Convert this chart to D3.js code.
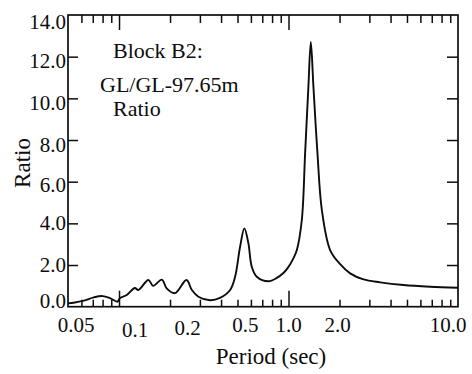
<!DOCTYPE html>
<html>
<head>
<meta charset="utf-8">
<script src="https://cdn.jsdelivr.net/npm/d3@7"></script>
<style>
  html, body { margin: 0; padding: 0; background: #fff; }
  svg { display: block; }
</style>
</head>
<body>
<svg id="chart" width="472" height="374" font-family="Liberation Serif, serif"></svg>
<script>
// ---- data ----
const periods = [0.050, 0.054, 0.062, 0.071, 0.080, 0.089, 0.098, 0.101, 0.111, 0.124,
                 0.130, 0.149, 0.159, 0.179, 0.191, 0.214, 0.250, 0.269, 0.294, 0.344,
                 0.394, 0.452, 0.484, 0.518, 0.549, 0.580, 0.607, 0.650, 0.760, 0.853,
                 0.933, 0.978, 1.069, 1.120, 1.198, 1.253, 1.310, 1.354, 1.403,
                 1.482, 1.573, 1.760, 2.017, 2.310, 2.770, 3.470, 4.770, 6.850, 10.00];
const ratios  = [0.16, 0.19, 0.29, 0.45, 0.51, 0.40, 0.24, 0.40, 0.56, 0.90,
                 0.80, 1.28, 1.00, 1.30, 0.88, 0.65, 1.28, 0.80, 0.48, 0.31,
                 0.42, 0.80, 1.44, 2.88, 3.76, 3.04, 1.92, 1.44, 1.22, 1.38,
                 1.62, 1.80, 2.32, 2.72, 4.16, 7.36, 10.55, 12.71, 10.55,
                 7.36, 4.64, 2.72, 2.04, 1.60, 1.31, 1.17, 1.04, 0.96, 0.91];

const xTickValues = [0.05, 0.1, 0.2, 0.5, 1, 2, 10];
const xTickLabels = ["0.05", "0.1", "0.2", "0.5", "1.0", "2.0", "10.0"];
const xMajorTicks = [0.1, 1];
const xMinorTicks = [0.06, 0.07, 0.08, 0.09, 0.2, 0.3, 0.4, 0.5, 0.6, 0.7, 0.8, 0.9,
                     2, 3, 4, 5, 6, 7, 8, 9];
const yTickValues = [0, 2, 4, 6, 8, 10, 12, 14];
const yTickLabels = ["0.0", "2.0", "4.0", "6.0", "8.0", "10.0", "12.0", "14.0"];
const yInnerTicks = [2, 4, 6, 8, 10, 12];
const annotations = ["Block B2:", "GL/GL-97.65m", "Ratio"];
const xTitle = "Period (sec)";
const yTitle = "Ratio";

// ---- layout / style ----
const L = 68, R = 458, T = 15, B = 306.7;
const xLabelDx = [8, 16, 17.5, 8, 0, -2, -10];
const xLabelBase = [332, 337, 335, 332, 332, 332, 332];
const yLabelDy = [1.3, 7, 6.7, 10.3, 12, 11.8, 11.8, 13.5];
const FF = "Liberation Serif, serif";
const INK = "#0d0d0d";

const svg = d3.select("#chart");
const x = d3.scaleLog().domain([0.05, 10]).range([L, R]);
const y = d3.scaleLinear().domain([0, 14]).range([B, T]);

function styleAxis(g) {
  g.select(".domain").remove();
  g.selectAll(".tick line").attr("stroke", INK).attr("stroke-width", 1.5);
}
svg.append("g").attr("transform", `translate(0,${B})`)
  .call(d3.axisBottom(x).tickValues(xMinorTicks).tickSize(-7).tickFormat(""))
  .call(styleAxis);
svg.append("g").attr("transform", `translate(0,${B})`)
  .call(d3.axisBottom(x).tickValues(xMajorTicks).tickSize(-16).tickFormat(""))
  .call(styleAxis);
svg.append("g").attr("transform", `translate(0,${T})`)
  .call(d3.axisTop(x).tickValues(xMinorTicks).tickSize(-8).tickFormat(""))
  .call(styleAxis);
svg.append("g").attr("transform", `translate(0,${T})`)
  .call(d3.axisTop(x).tickValues(xMajorTicks).tickSize(-15).tickFormat(""))
  .call(styleAxis);
svg.append("g").attr("transform", `translate(${L},0)`)
  .call(d3.axisLeft(y).tickValues(yInnerTicks).tickSize(-10).tickFormat(""))
  .call(styleAxis);
svg.append("g").attr("transform", `translate(${R},0)`)
  .call(d3.axisRight(y).tickValues(yInnerTicks).tickSize(-11).tickFormat(""))
  .call(styleAxis);

// frame
svg.append("rect").attr("x", L).attr("y", T).attr("width", R - L).attr("height", B - T)
  .attr("fill", "none").attr("stroke", INK).attr("stroke-width", 1.7);

// x tick labels
svg.append("g").selectAll("text").data(xTickValues).join("text")
  .attr("x", (d, i) => x(d) + xLabelDx[i])
  .attr("y", (d, i) => xLabelBase[i])
  .attr("text-anchor", "middle")
  .attr("font-family", FF).attr("fill", INK)
  .attr("font-size", 21)
  .text((d, i) => xTickLabels[i]);

// y tick labels
svg.append("g").selectAll("text").data(yTickValues).join("text")
  .attr("x", 66)
  .attr("y", (d, i) => y(d) + yLabelDy[i])
  .attr("text-anchor", "end")
  .attr("font-family", FF).attr("fill", INK)
  .attr("font-size", 21)
  .text((d, i) => yTickLabels[i]);

// curve
const pts = periods.map((p, i) => [p, ratios[i]]);
svg.append("path").datum(pts)
  .attr("fill", "none").attr("stroke", INK).attr("stroke-width", 1.9)
  .attr("stroke-linejoin", "round")
  .attr("d", d3.line().x(d => x(d[0])).y(d => y(d[1])).curve(d3.curveCatmullRom.alpha(0.5)));

// annotations
const annPos = [[113, 58], [100, 92], [113, 116]];
svg.append("g").selectAll("text").data(annotations).join("text")
  .attr("x", (d, i) => annPos[i][0]).attr("y", (d, i) => annPos[i][1])
  .attr("font-family", FF).attr("fill", INK)
  .attr("font-size", 22)
  .text(d => d);

// axis titles
svg.append("text").attr("x", 271).attr("y", 364).attr("text-anchor", "middle")
  .attr("font-family", FF).attr("fill", INK)
  .attr("font-size", 23).text(xTitle);
svg.append("text").attr("transform", "translate(30,163) rotate(-90)")
  .attr("font-family", FF).attr("fill", INK)
  .attr("text-anchor", "middle").attr("font-size", 23).text(yTitle);
</script>
</body>
</html>
